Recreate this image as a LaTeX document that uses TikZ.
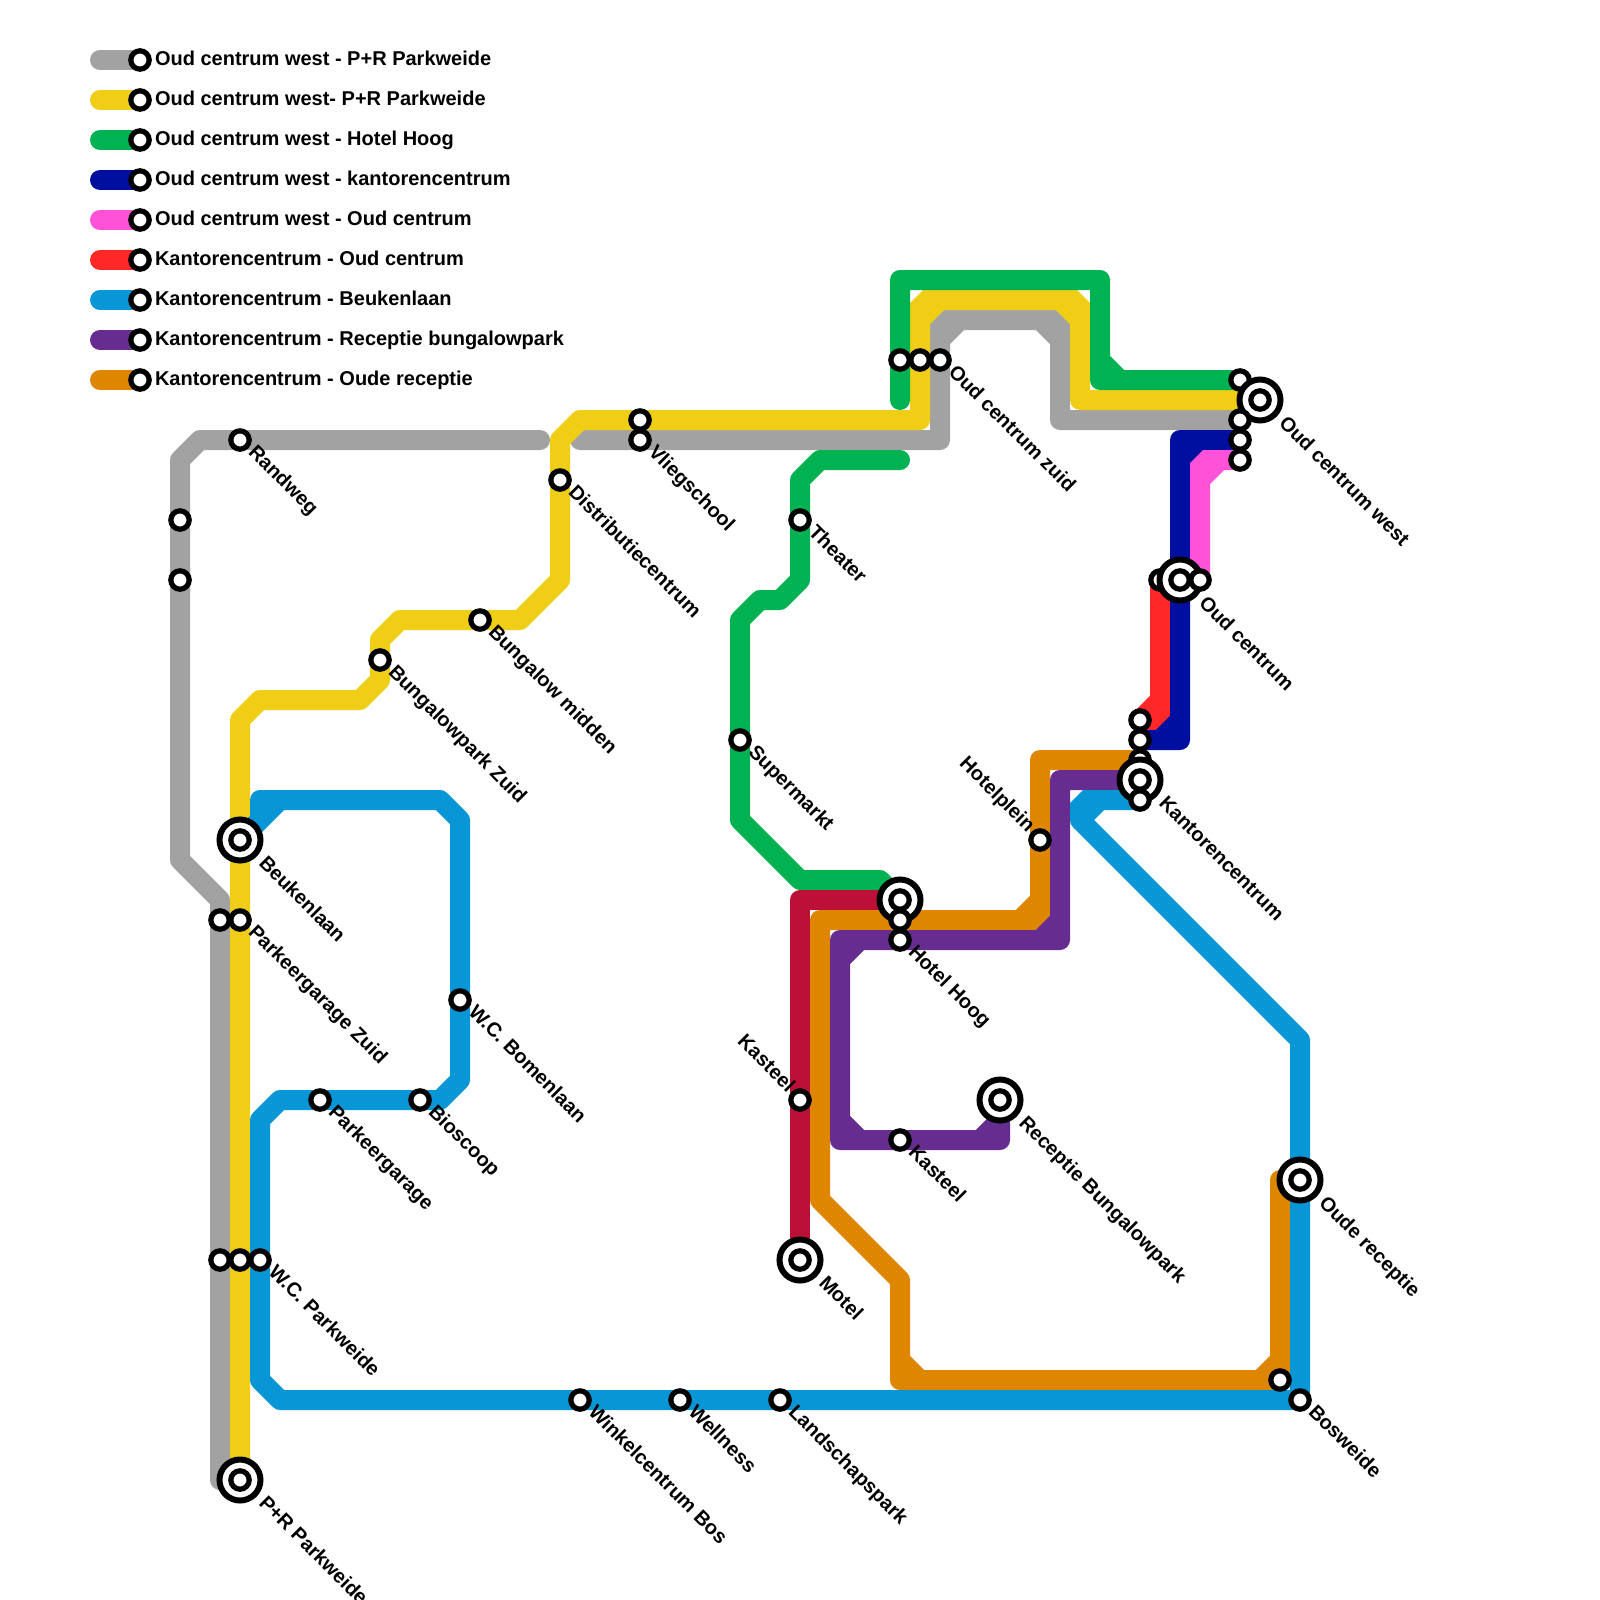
\documentclass[tikz,border=0pt]{standalone}
\usepackage{fontspec}
\setmainfont{Liberation Sans}[BoldFont={Liberation Sans Bold}]
\definecolor{cgrey}{HTML}{A2A2A2}
\definecolor{cyellow}{HTML}{F0CE15}
\definecolor{cgreen}{HTML}{00B251}
\definecolor{cnavy}{HTML}{000F9F}
\definecolor{cpink}{HTML}{FF52D9}
\definecolor{cred}{HTML}{FF2828}
\definecolor{cblue}{HTML}{0896D7}
\definecolor{cpurple}{HTML}{662C90}
\definecolor{corange}{HTML}{DF8600}
\definecolor{ccrimson}{HTML}{BD1038}
\pgfdeclarelayer{lines}
\pgfsetlayers{lines,main}
\tikzset{
  metro/.style={line width=20pt,line cap=round,line join=round},
  stn/.style={circle,draw=black,fill=white,line width=5.2pt,minimum size=18.4pt,inner sep=0pt,outer sep=0pt},
  bigstn/.style={circle,draw=black,fill=white,line width=6pt,minimum size=41pt,inner sep=0pt,outer sep=0pt},
  lab/.style={font=\fontsize{20}{24}\selectfont\bfseries,inner sep=0pt,outer sep=0pt,text=black},
  rlab/.style={lab,rotate=-45,anchor=base west},
  llab/.style={lab,rotate=-45,anchor=base east},
  leg/.style={lab,anchor=base west},
}
\newcommand{\smst}[2]{\node[stn] (#1) at (#2) {};}
\newcommand{\bgst}[2]{\node[bigstn] (#1o) at (#2) {}; \node[stn] (#1) at (#2) {};}
\newcommand{\rlb}[2]{\node[rlab] (t#1) at ([shift={(7.5,13)}]#1.center) {#2};}
\newcommand{\rbb}[2]{\node[rlab] (t#1) at ([shift={(18,24)}]#1.center) {#2};}
\newcommand{\llb}[2]{\node[llab] (t#1) at ([shift={(-13,-7)}]#1.center) {#2};}
\newcommand{\legitem}[4]{%
  \coordinate (la#1) at (100,#2);
  \node[stn] (lb#1) at (140,#2) {};
  \begin{pgfonlayer}{lines}\draw[metro,draw=#3] (la#1) -- (lb#1.center);\end{pgfonlayer}
  \node[leg] (lt#1) at (155,#2+5.5) {#4};}
\begin{document}
\begin{tikzpicture}[x=1pt,y=-1pt]
\useasboundingbox (0,0) rectangle (1600,1600);
\begin{pgfonlayer}{lines}
\fill[white] (0,0) rectangle (1600,1600);
\end{pgfonlayer}
% legend
\legitem{1}{60}{cgrey}{Oud centrum west - P+R Parkweide}
\legitem{2}{100}{cyellow}{Oud centrum west- P+R Parkweide}
\legitem{3}{140}{cgreen}{Oud centrum west - Hotel Hoog}
\legitem{4}{180}{cnavy}{Oud centrum west - kantorencentrum}
\legitem{5}{220}{cpink}{Oud centrum west - Oud centrum}
\legitem{6}{260}{cred}{Kantorencentrum - Oud centrum}
\legitem{7}{300}{cblue}{Kantorencentrum - Beukenlaan}
\legitem{8}{340}{cpurple}{Kantorencentrum - Receptie bungalowpark}
\legitem{9}{380}{corange}{Kantorencentrum - Oude receptie}
% stations
\smst{randweg}{240,440}
\smst{ga}{180,520}
\smst{gb}{180,580}
\smst{gc}{220,920}
\smst{gd}{220,1260}
\smst{vla}{640,420}
\smst{vliegschool}{640,440}
\smst{distributie}{560,480}
\smst{bmidden}{480,620}
\smst{bzuid}{380,660}
\bgst{beukenlaan}{240,840}
\smst{pgzuid}{240,920}
\smst{bomenlaan}{460,1000}
\smst{bioscoop}{420,1100}
\smst{parkeergarage}{320,1100}
\smst{wya}{240,1260}
\smst{parkweide}{260,1260}
\bgst{pr}{240,1480}
\smst{winkel}{580,1400}
\smst{wellness}{680,1400}
\smst{landschap}{780,1400}
\smst{oa}{1280,1380}
\smst{bosweide}{1300,1400}
\bgst{oude}{1300,1180}
\bgst{motel}{800,1260}
\smst{kasteelL}{800,1100}
\smst{kasteelR}{900,1140}
\bgst{receptie}{1000,1100}
\bgst{hotel}{900,900}
\smst{hb}{900,920}
\smst{hotelhoog}{900,940}
\smst{hotelplein}{1040,840}
\smst{supermarkt}{740,740}
\smst{theater}{800,520}
\smst{za}{900,360}
\smst{zb}{920,360}
\smst{zuid}{940,360}
\smst{wa}{1240,380}
\bgst{west}{1260,400}
\smst{wb}{1240,420}
\smst{wc}{1240,440}
\smst{wd}{1240,460}
\smst{ca}{1160,580}
\bgst{oudc}{1180,580}
\smst{cb}{1200,580}
\smst{ka}{1140,720}
\smst{kb}{1140,740}
\smst{kc}{1140,760}
\bgst{kant}{1140,780}
\smst{kd}{1140,800}
% free line ends
\coordinate (greyE) at (540,440);
\coordinate (greyF) at (580,440);
\coordinate (greenE) at (900,400);
\coordinate (greenF) at (900,460);
% labels
\rlb{randweg}{Randweg}
\rlb{vliegschool}{Vliegschool}
\rlb{distributie}{Distributiecentrum}
\rlb{bmidden}{Bungalow midden}
\rlb{bzuid}{Bungalowpark Zuid}
\rbb{beukenlaan}{Beukenlaan}
\rlb{pgzuid}{Parkeergarage Zuid}
\rlb{bomenlaan}{W.C. Bomenlaan}
\rlb{bioscoop}{Bioscoop}
\rlb{parkeergarage}{Parkeergarage}
\rlb{parkweide}{W.C. Parkweide}
\rbb{pr}{P+R Parkweide}
\rlb{winkel}{Winkelcentrum Bos}
\rlb{wellness}{Wellness}
\rlb{landschap}{Landschapspark}
\rlb{bosweide}{Bosweide}
\rbb{oude}{Oude receptie}
\rbb{motel}{Motel}
\llb{kasteelL}{Kasteel}
\rlb{kasteelR}{Kasteel}
\rbb{receptie}{Receptie Bungalowpark}
\rlb{hotelhoog}{Hotel Hoog}
\llb{hotelplein}{Hotelplein}
\rlb{supermarkt}{Supermarkt}
\rlb{theater}{Theater}
\rlb{zuid}{Oud centrum zuid}
\rbb{west}{Oud centrum west}
\rbb{oudc}{Oud centrum}
\rbb{kant}{Kantorencentrum}
% lines
\begin{pgfonlayer}{lines}
\draw[metro,draw=cgrey] (greyE) -- (200,440) -- (180,460) -- (180,860) -- (220,900) -- (220,1480) -- (pr.center);
\draw[metro,draw=cgrey] (greyF) -- (940,440) -- (940,340) -- (960,320) -- (1040,320) -- (1060,340) -- (1060,420) -- (wb.center);
\fill[cgrey] (930,340) -- (930,323) -- (943,310) -- (960,310) -- (950,330) -- cycle (1070,340) -- (1070,323) -- (1057,310) -- (1040,310) -- (1050,330) -- cycle;
\draw[metro,draw=cyellow] (pr.center) -- (240,720) -- (260,700) -- (360,700) -- (380,680) -- (380,640) -- (400,620) -- (520,620) -- (560,580) -- (560,440) -- (580,420) -- (920,420) -- (920,320) -- (940,300) -- (1060,300) -- (1080,320) -- (1080,400) -- (west.center);
\fill[cyellow] (910,320) -- (910,303) -- (923,290) -- (940,290) -- (930,310) -- cycle (1090,320) -- (1090,303) -- (1077,290) -- (1060,290) -- (1070,310) -- cycle;
\draw[metro,draw=cgreen] (greenE) -- (900,280) -- (1100,280) -- (1100,380) -- (wa.center)
  (1100,360) -- (1120,380);
\draw[metro,draw=cgreen] (greenF) -- (820,460) -- (800,480) -- (800,580) -- (780,600) -- (760,600) -- (740,620) -- (740,820) -- (800,880) -- (880,880) -- (hotel.center);
\draw[metro,draw=ccrimson] (motel.center) -- (800,900) -- (hotel.center);
\draw[metro,draw=cred] (ca.center) -- (1160,720) -- (ka.center)
  (1160,700) -- (ka.center);
\draw[metro,draw=cnavy] (wc.center) -- (1180,440) -- (1180,740) -- (kb.center)
  (1180,720) -- (1160,740) (1180,460) -- (1200,440);
\draw[metro,draw=cpink] (wd.center) -- (1220,460) -- (1200,480) -- (cb.center);
\fill[cpink] (1190,480) -- (1190,463) -- (1203,450) -- (1220,450) -- (1210,470) -- cycle;
\draw[metro,draw=corange] (kc.center) -- (1040,760) -- (1040,920) -- (820,920) -- (820,1200) -- (900,1280) -- (900,1380) -- (1280,1380) -- (1280,1180) -- (oude.center)
  (1040,900) -- (1020,920) (900,1360) -- (920,1380) (1280,1360) -- (1260,1380);
\draw[metro,draw=cpurple] (kant.center) -- (1060,780) -- (1060,940) -- (840,940) -- (840,1140) -- (1000,1140) -- (receptie.center)
  (1060,920) -- (1040,940) (840,960) -- (860,940) (840,1120) -- (860,1140) (980,1140) -- (1000,1120);
\draw[metro,draw=cblue] (beukenlaan.center) -- (280,800) -- (440,800) -- (460,820) -- (460,1080) -- (440,1100) -- (280,1100) -- (260,1120) -- (260,1380) -- (280,1400) -- (bosweide.center) -- (1300,1040) -- (1080,820) -- (1100,800) -- (kd.center)
  (260,820) -- (260,800) -- (280,800);
\fill[cblue] (1070,820) -- (1070,803) -- (1083,790) -- (1100,790) -- (1090,810) -- cycle;
\end{pgfonlayer}
\end{tikzpicture}
\end{document}
